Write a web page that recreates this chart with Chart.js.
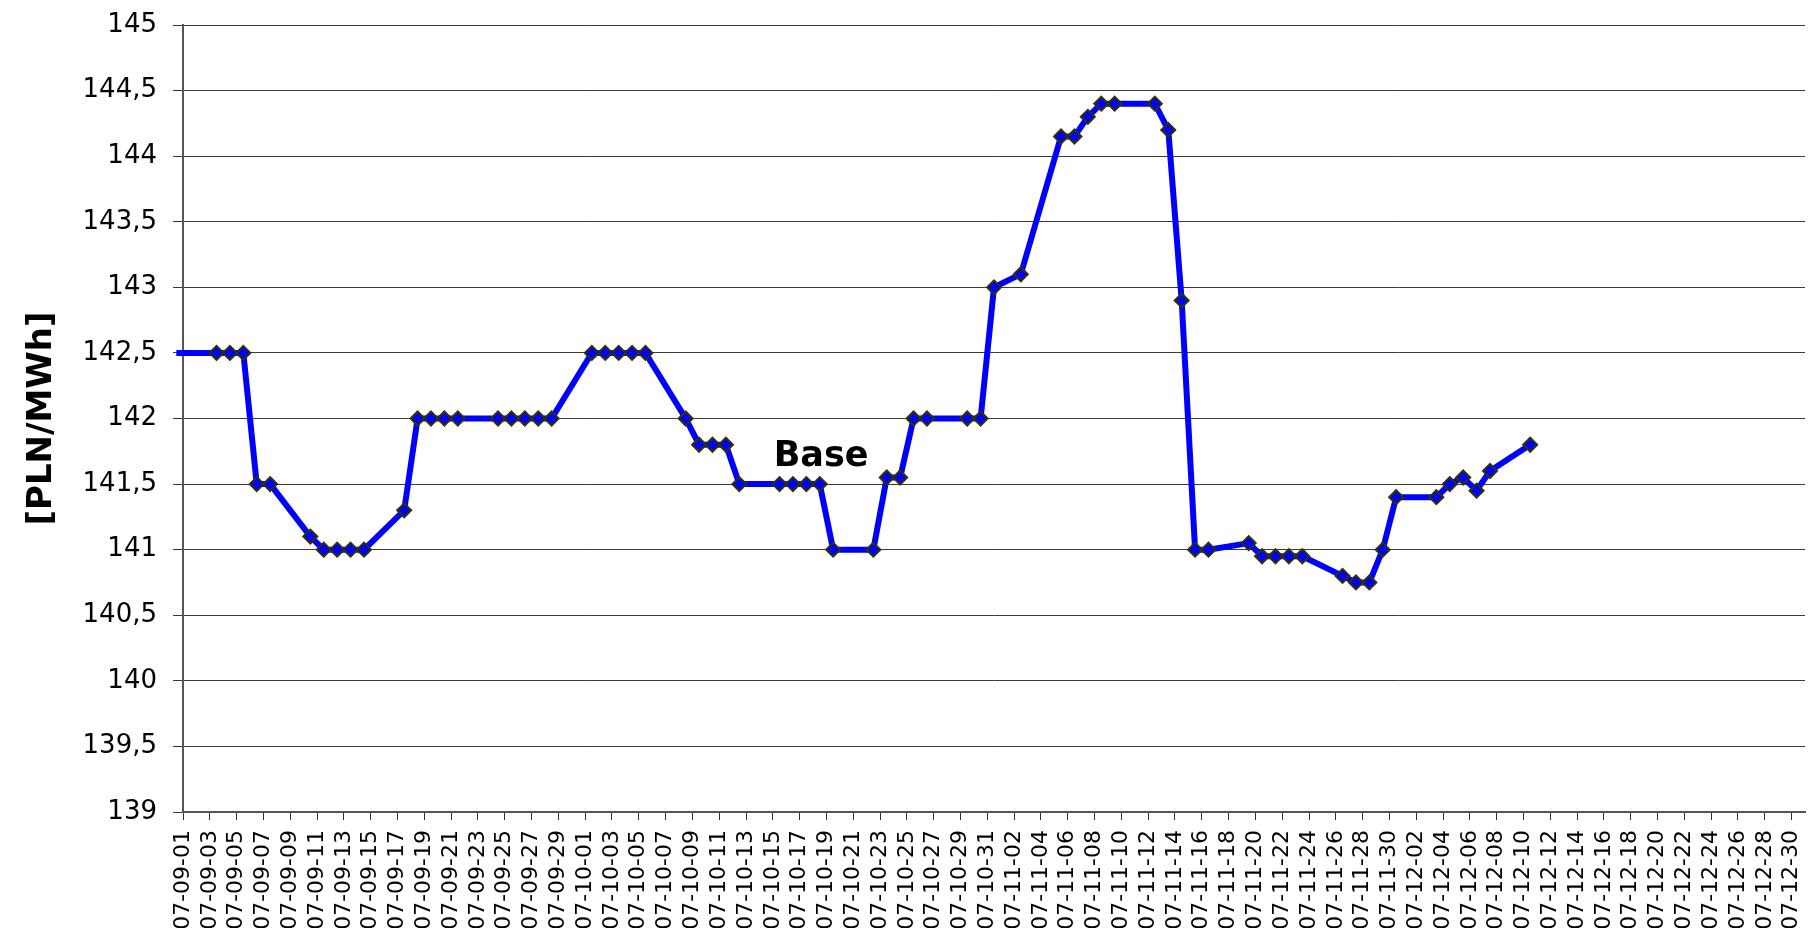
<!DOCTYPE html>
<html>
<head>
<meta charset="utf-8">
<script src="https://cdn.jsdelivr.net/npm/chart.js@4/dist/chart.umd.min.js"></script>
<style>
  html, body { margin: 0; padding: 0; background: #fff; }
  #wrap { width: 1814px; height: 928px; }
</style>
</head>
<body>
<div id="wrap"><canvas id="chart"></canvas></div>
<script>
// Base price quotes, yy-mm-dd
const dates = [
  '07-08-31',
  '07-09-03', '07-09-04', '07-09-05', '07-09-06', '07-09-07',
  '07-09-10', '07-09-11', '07-09-12', '07-09-13', '07-09-14',
  '07-09-17', '07-09-18', '07-09-19', '07-09-20', '07-09-21',
  '07-09-24', '07-09-25', '07-09-26', '07-09-27', '07-09-28',
  '07-10-01', '07-10-02', '07-10-03', '07-10-04', '07-10-05',
  '07-10-08', '07-10-09', '07-10-10', '07-10-11', '07-10-12',
  '07-10-15', '07-10-16', '07-10-17', '07-10-18', '07-10-19',
  '07-10-22', '07-10-23', '07-10-24', '07-10-25', '07-10-26',
  '07-10-29', '07-10-30', '07-10-31', '07-11-02',
  '07-11-05', '07-11-06', '07-11-07', '07-11-08', '07-11-09',
  '07-11-12', '07-11-13', '07-11-14', '07-11-15', '07-11-16',
  '07-11-19', '07-11-20', '07-11-21', '07-11-22', '07-11-23',
  '07-11-26', '07-11-27', '07-11-28', '07-11-29', '07-11-30',
  '07-12-03', '07-12-04', '07-12-05', '07-12-06', '07-12-07',
  '07-12-10',
];

const basePrices = [
  142.5,
  142.5, 142.5, 142.5, 141.5, 141.5,
  141.1, 141.0, 141.0, 141.0, 141.0,
  141.3, 142.0, 142.0, 142.0, 142.0,
  142.0, 142.0, 142.0, 142.0, 142.0,
  142.5, 142.5, 142.5, 142.5, 142.5,
  142.0, 141.8, 141.8, 141.8, 141.5,
  141.5, 141.5, 141.5, 141.5, 141.0,
  141.0, 141.55, 141.55, 142.0, 142.0,
  142.0, 142.0, 143.0, 143.1,
  144.15, 144.15, 144.3, 144.4, 144.4,
  144.4, 144.2, 142.9, 141.0, 141.0,
  141.05, 140.95, 140.95, 140.95, 140.95,
  140.8, 140.75, 140.75, 141.0, 141.4,
  141.4, 141.5, 141.55, 141.45, 141.6,
  141.8,
];

const axisStart = '07-09-01';
const axisEnd = '07-12-31';
const labelEvery = 2; // days between date labels
const yMin = 139;
const yMax = 145;
const yStep = 0.5;
const seriesLabel = 'Base';
const yTitle = '[PLN/MWh]';

const DAY = 86400000;
const parseDay = s => {
  const [yy, mm, dd] = s.split('-').map(Number);
  return Date.UTC(2000 + yy, mm - 1, dd);
};
const t0 = parseDay(axisStart);
const dayIndex = s => Math.round((parseDay(s) - t0) / DAY);
const dayLabel = i => {
  const d = new Date(t0 + i * DAY);
  const p = n => String(n).padStart(2, '0');
  return `${p(d.getUTCFullYear() % 100)}-${p(d.getUTCMonth() + 1)}-${p(d.getUTCDate())}`;
};

// each quote sits in the middle of its day slot
const points = dates.map((s, i) => ({ x: dayIndex(s) + 0.5, y: basePrices[i] }));

const FONT = '"DejaVu Sans", sans-serif';

// series name written inside the plot
const seriesNamePlugin = {
  id: 'seriesName',
  afterDatasetsDraw(chart) {
    const { ctx, scales: { x, y } } = chart;
    ctx.save();
    ctx.font = `bold 35px ${FONT}`;
    ctx.fillStyle = '#000';
    ctx.textAlign = 'center';
    ctx.textBaseline = 'middle';
    ctx.fillText(seriesLabel, x.getPixelForValue(47.6), y.getPixelForValue(141.71));
    ctx.restore();
  },
};

new Chart(document.getElementById('chart'), {
  type: 'line',
  data: {
    datasets: [{
      label: seriesLabel,
      data: points,
      borderColor: '#0000ff',
      borderWidth: 6,
      tension: 0,
      pointStyle: 'rectRot',
      pointRadius: ctx => (ctx.raw && ctx.raw.x < 0 ? 0 : 7),
      pointBackgroundColor: '#0000ff',
      pointBorderColor: '#333300',
      pointBorderWidth: 2,
      clip: { left: 10, top: 0, right: 0, bottom: 0 },
    }],
  },
  options: {
    responsive: true,
    maintainAspectRatio: false,
    animation: false,
    layout: { padding: { top: 25, right: 2, left: 0, bottom: 0 } },
    plugins: {
      legend: { display: false },
      tooltip: { enabled: false },
    },
    scales: {
      x: {
        type: 'linear',
        min: 0,
        max: dayIndex(axisEnd),
        afterBuildTicks: scale => {
          const ticks = [];
          for (let v = 0; v < dayIndex(axisEnd); v += labelEvery) ticks.push({ value: v });
          scale.ticks = ticks;
        },
        afterFit: scale => {
          scale.height = 116;
          scale.paddingLeft = 0;
          scale.paddingRight = 0;
        },
        ticks: {
          autoSkip: false,
          maxRotation: 90,
          minRotation: 90,
          padding: 10,
          color: '#000',
          font: { family: FONT, size: 22 },
          callback: v => dayLabel(v),
        },
        grid: {
          drawOnChartArea: false,
          drawTicks: true,
          tickLength: 8,
          color: '#333',
        },
        border: { color: '#555', width: 2 },
      },
      y: {
        min: yMin,
        max: yMax,
        afterFit: scale => {
          scale.width = 183;
          scale.paddingTop = 0;
          scale.paddingBottom = 0;
        },
        ticks: {
          stepSize: yStep,
          padding: 16,
          color: '#000',
          font: { family: FONT, size: 26 },
          callback: v => String(v).replace('.', ','),
        },
        grid: {
          color: '#3a3a3a',
          lineWidth: 1,
          tickLength: 10,
        },
        border: { color: '#555', width: 2 },
        title: {
          display: true,
          text: yTitle,
          color: '#000',
          font: { family: FONT, size: 34, weight: 'bold' },
          padding: { top: 22, bottom: 0 },
        },
      },
    },
  },
  plugins: [seriesNamePlugin],
});
</script>
</body>
</html>
